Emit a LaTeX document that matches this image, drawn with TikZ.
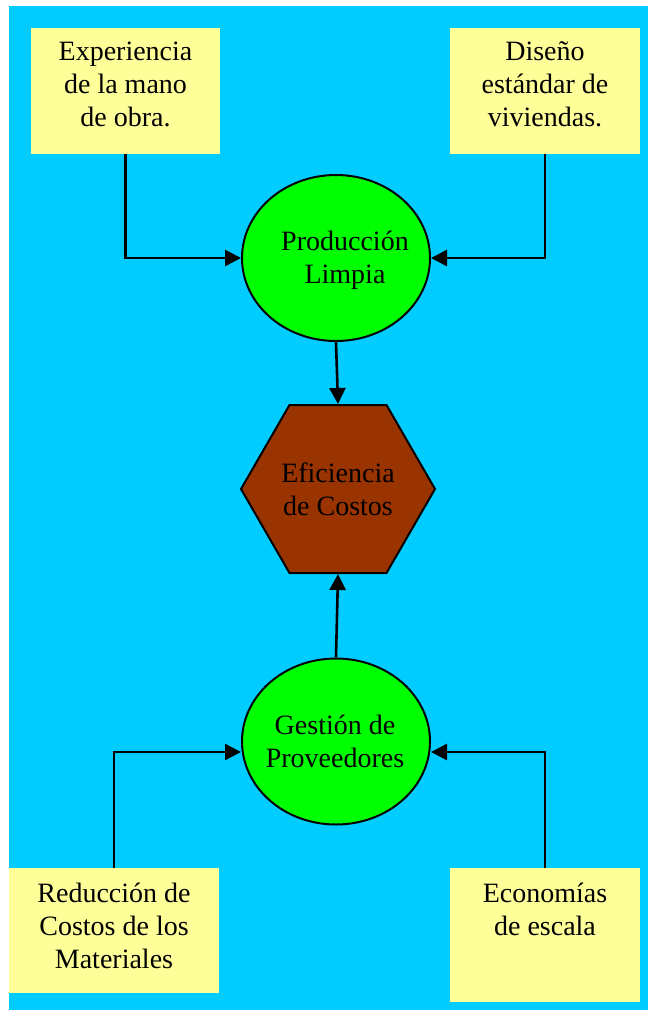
\documentclass[tikz,border=0pt]{standalone}
\usepackage{fontspec}
\setmainfont{Liberation Serif}
\usetikzlibrary{shapes.geometric,arrows.meta}

\definecolor{skyblue}{HTML}{00CCFF}
\definecolor{paleyellow}{HTML}{FFFF99}
\definecolor{limegreen}{HTML}{00FF00}
\definecolor{rustbrown}{HTML}{993300}

\begin{document}
\begin{tikzpicture}[x=1pt,y=-1pt,
  factor/.style={rectangle, fill=paleyellow, draw=none, inner sep=0pt},
  txt/.style={align=center, inner sep=0pt, font=\fontsize{28}{33}\selectfont},
  hub/.style={ellipse, draw=black, line width=2pt, fill=limegreen,
    minimum width=188pt, minimum height=166pt, inner sep=0pt},
  goal/.style={regular polygon, regular polygon sides=6, draw=black,
    line width=2pt, fill=rustbrown, minimum size=194pt, inner sep=0pt, txt},
  link/.style={line width=2.6pt, -{Triangle[length=16pt,width=16pt]}}]

\useasboundingbox (0,0) rectangle (648,1010);
\fill[white] (0,0) rectangle (648,1010);
\fill[skyblue] (9,6) rectangle (648,1010);

% input factors
\node[factor, minimum width=189pt, minimum height=126pt] (exp) at (125.5,91) {};
\node[factor, minimum width=190pt, minimum height=126pt] (dis) at (545,91) {};
\node[factor, minimum width=210pt, minimum height=125pt] (red) at (114,930.5) {};
\node[factor, minimum width=190pt, minimum height=134pt] (eco) at (545,935) {};

\node[txt] (exptext) at (125.5,84.5) {Experiencia\\de la mano\\de obra.};
\node[txt] (distext) at (545,84.5) {Diseño\\estándar de\\viviendas.};
\node[txt] (redtext) at (114,925.5) {Reducción de\\Costos de los\\Materiales};
\node[txt] (ecotext) at (545,909) {Economías\\de escala};

% intermediate hubs and the goal
\node[hub] (prod) at (336,258) {};
\node[txt] (prodtext) at (345,260.5) {Producción\\Limpia};
\node[hub] (gest) at (336,741.5) {};
\node[txt] (gesttext) at (335,741.5) {Gestión de\\Proveedores};
\node[goal] (efic) at (338,489) {Eficiencia\\de Costos};

% connectors
\draw[link] (exp.south) |- (prod.west);
\draw[link] (dis.south) |- (prod.east);
\draw[link] (red.north) |- ([yshift=-10.5pt]gest.west);
\draw[link] (eco.north) |- ([yshift=-10.5pt]gest.east);
\draw[link] (prod.south) -- (efic.north);
\draw[link] (gest.north) -- (efic.south);
\end{tikzpicture}
\end{document}
